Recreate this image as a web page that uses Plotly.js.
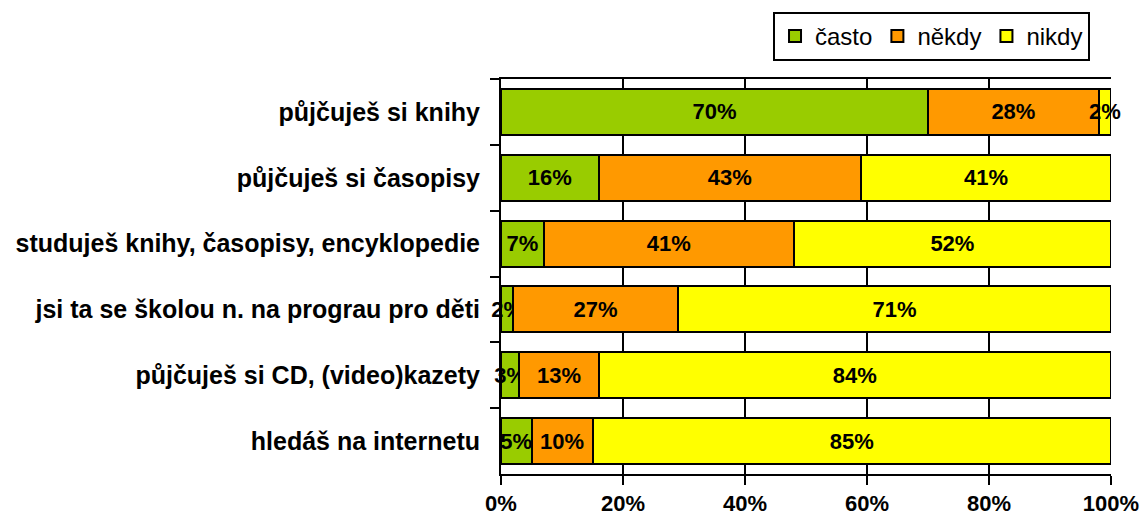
<!DOCTYPE html>
<html><head><meta charset="utf-8">
<script src="https://cdn.plot.ly/plotly-3.0.1.min.js"></script>
<style>body{margin:0;background:#fff}</style>
</head><body>
<div id="chart" style="width:1144px;height:519px"></div>
<script>
const categories = ["půjčuješ si knihy","půjčuješ si časopisy","studuješ knihy, časopisy, encyklopedie","jsi ta se školou n. na prograu pro děti","půjčuješ si CD, (video)kazety","hledáš na internetu"];
const casto = [70,16,7,2,3,5];
const nekdy = [28,43,41,27,13,10];
const nikdy = [2,41,52,71,84,85];
const seriesNames = ["často","někdy","nikdy"];
const colors = ["#99CC00","#FF9900","#FFFF00"];
const xTicks = [0,20,40,60,80,100];
const xTickText = ["0%","20%","40%","60%","80%","100%"];

const F = "Arial, 'Liberation Sans', sans-serif";
const data = [casto, nekdy, nikdy].map((vals,i)=>({
  type:'bar', orientation:'h', name:seriesNames[i],
  y:categories, x:vals,
  marker:{color:colors[i], line:{color:'#000', width:2}},
  text: vals.map(v=>v+'%'), textposition:'inside', insidetextanchor:'middle', textangle:0,
  textfont:{family:F, size:22, color:'#000', weight:'bold'},
  constraintext:'none', cliponaxis:false, hoverinfo:'none'
}));
const layout = {
  barmode:'stack', bargap:0.3,
  width:1144, height:519,
  margin:{l:501, r:33, t:79, b:45},
  paper_bgcolor:'#fff', plot_bgcolor:'#fff',
  uniformtext:{mode:'show', minsize:22},
  font:{family:F, color:'#000'},
  showlegend:true,
  legend:{orientation:'h', x:0.9656, xanchor:'right', y:1.1696, yanchor:'top',
    bordercolor:'#000', borderwidth:2, font:{family:F, size:24, color:'#000'},
    traceorder:'normal', itemwidth:30, tracegroupgap:0},
  xaxis:{range:[0,100], tickvals:xTicks, ticktext:xTickText,
    showgrid:true, gridcolor:'#000', gridwidth:2,
    showline:true, linecolor:'#000', linewidth:2, mirror:true,
    ticks:'outside', ticklen:9, tickwidth:2, tickcolor:'#000',
    tickfont:{family:F, size:22, weight:'bold'}, zeroline:false, fixedrange:true},
  yaxis:{type:'category', categoryorder:'array', categoryarray:categories, autorange:'reversed',
    showline:true, linecolor:'#000', linewidth:2,
    ticks:'outside', tickson:'boundaries', ticklen:9, tickwidth:2, tickcolor:'#000',
    ticklabelstandoff:14,
    tickfont:{family:F, size:25, weight:'bold'}, showgrid:false, zeroline:false, fixedrange:true}
};
Plotly.newPlot('chart', data, layout, {staticPlot:true, displayModeBar:false});
</script>
</body></html>
